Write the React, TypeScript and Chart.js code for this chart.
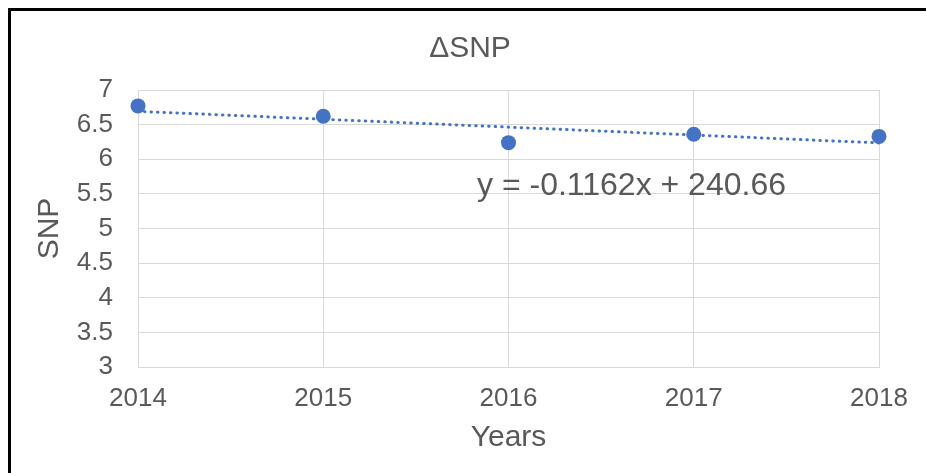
import React, { useEffect, useRef } from "react";
import { Chart, registerables } from "chart.js";

Chart.register(...registerables);

const years = [2014, 2015, 2016, 2017, 2018];
const snp = [6.77, 6.62, 6.24, 6.36, 6.33];
const yTickValues = [3, 3.5, 4, 4.5, 5, 5.5, 6, 6.5, 7];
const chartTitle = "ΔSNP";
const xTitle = "Years";
const yTitle = "SNP";
const equationText = "y = -0.1162x + 240.66";

const FONT = '"Liberation Sans", Arial, Helvetica, sans-serif';
const TEXT = "#595959";
const GRID = "#d9d9d9";
const BLUE = "#4472C4";

function linearFit(xs: number[], ys: number[]) {
  const n = xs.length;
  const mx = xs.reduce((a, b) => a + b, 0) / n;
  const my = ys.reduce((a, b) => a + b, 0) / n;
  let sxy = 0;
  let sxx = 0;
  for (let i = 0; i < n; i++) {
    sxy += (xs[i] - mx) * (ys[i] - my);
    sxx += (xs[i] - mx) * (xs[i] - mx);
  }
  const slope = sxy / sxx;
  return { slope, intercept: my - slope * mx };
}

const equationPlugin = {
  id: "equationLabel",
  afterDatasetsDraw(chart: any) {
    const { ctx, scales } = chart;
    const px = scales.x.getPixelForValue(2015.83);
    const py = scales.y.getPixelForValue(5.61);
    ctx.save();
    ctx.font = `32px ${FONT}`;
    ctx.fillStyle = TEXT;
    ctx.textAlign = "left";
    ctx.textBaseline = "middle";
    ctx.fillText(equationText, px, py);
    ctx.restore();
  },
};

export default function App() {
  const ref = useRef<HTMLCanvasElement | null>(null);

  useEffect(() => {
    const canvas = ref.current;
    if (!canvas) return;
    const fit = linearFit(years, snp);
    const x0 = years[0];
    const x1 = years[years.length - 1];
    const trend = [
      { x: x0, y: fit.slope * x0 + fit.intercept },
      { x: x1, y: fit.slope * x1 + fit.intercept },
    ];

    const chart = new Chart(canvas, {
      type: "scatter",
      data: {
        datasets: [
          {
            label: "SNP",
            data: years.map((x, i) => ({ x, y: snp[i] })),
            backgroundColor: BLUE,
            borderColor: BLUE,
            borderWidth: 0,
            pointRadius: 7.5,
            pointHoverRadius: 7.5,
            showLine: false,
            clip: false,
          },
          {
            label: "Trend",
            data: trend,
            borderColor: BLUE,
            backgroundColor: BLUE,
            borderWidth: 3,
            borderDash: [0.5, 6],
            borderCapStyle: "round",
            pointRadius: 0,
            showLine: true,
            clip: false,
          },
        ],
      },
      plugins: [equationPlugin],
      options: {
        animation: false,
        responsive: false,
        devicePixelRatio: 1,
        layout: { padding: 0 },
        plugins: {
          legend: { display: false },
          tooltip: { enabled: false },
          title: {
            display: true,
            text: chartTitle,
            color: TEXT,
            font: { family: FONT, size: 30, weight: "normal" },
            padding: { top: 31, bottom: 23 },
          },
        },
        scales: {
          x: {
            type: "linear",
            position: "bottom",
            min: years[0],
            max: years[years.length - 1],
            afterFit(s: any) {
              s.height = 106;
            },
            ticks: {
              stepSize: 1,
              autoSkip: false,
              maxRotation: 0,
              padding: 16,
              color: TEXT,
              font: { family: FONT, size: 26 },
              callback: (v: any) => String(v),
            },
            grid: { color: GRID, lineWidth: 1, drawTicks: false },
            border: { color: GRID, width: 1 },
            title: {
              display: true,
              text: xTitle,
              color: TEXT,
              font: { family: FONT, size: 30 },
              padding: { top: 0, bottom: 17 },
            },
          },
          y: {
            type: "linear",
            position: "left",
            min: yTickValues[0],
            max: yTickValues[yTickValues.length - 1],
            afterFit(s: any) {
              s.width = 124;
            },
            afterBuildTicks(s: any) {
              s.ticks = yTickValues.map((value) => ({ value }));
            },
            ticks: {
              padding: 25,
              color: TEXT,
              font: { family: FONT, size: 26 },
              callback: (v: any) => String(v),
            },
            grid: { color: GRID, lineWidth: 1, drawTicks: false },
            border: { color: GRID, width: 1 },
            title: {
              display: true,
              text: yTitle,
              color: TEXT,
              font: { family: FONT, size: 30 },
              padding: { top: 18, bottom: 0 },
            },
          },
          y2: {
            axis: "y",
            type: "linear",
            position: "right",
            display: true,
            afterFit(s: any) {
              s.width = 47;
            },
            ticks: { display: false },
            grid: { display: false, drawTicks: false },
            border: { display: false },
          },
        },
      } as any,
    });
    return () => chart.destroy();
  }, []);

  return (
    <div>
      <div
        style={{
          position: "fixed",
          left: 8,
          top: 8,
          right: 0,
          bottom: 0,
          borderTop: "3px solid #000",
          borderLeft: "3px solid #000",
          boxSizing: "border-box",
        }}
      />
      <canvas
        ref={ref}
        width={912}
        height={473}
        style={{ position: "fixed", left: 14, top: 0, width: 912, height: 473 }}
      />
    </div>
  );
}
